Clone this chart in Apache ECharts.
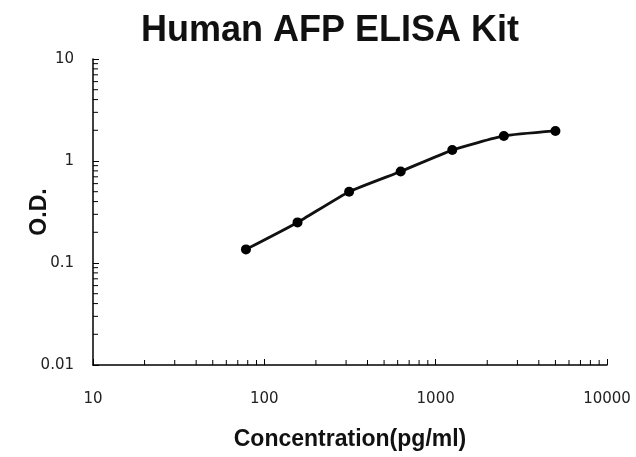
<!DOCTYPE html>
<html><head><meta charset="utf-8">
<script src="https://cdn.jsdelivr.net/npm/echarts@6/dist/echarts.min.js"></script>
<style>html,body{margin:0;padding:0;background:#fff}#c{width:636px;height:457px}</style>
</head><body><div id="c"></div>
<script>
// Data
const concentrations = [78.125, 156.25, 312.5, 625, 1250, 2500, 5000];
const odValues = [0.136, 0.25, 0.50, 0.79, 1.28, 1.76, 1.97];
// Tick positions
const xMinorTicks = [20, 30, 40, 50, 60, 70, 80, 90, 200, 300, 400, 500, 600, 700, 800, 900, 2000, 3000, 4000, 5000, 6000, 7000, 8000, 9000];
const yMinorTicks = [0.02, 0.03, 0.04, 0.05, 0.06, 0.07, 0.08, 0.09, 0.2, 0.3, 0.4, 0.5, 0.6, 0.7, 0.8, 0.9, 2, 3, 4, 5, 6, 7, 8, 9];
const xRange = [10, 10000];
const yRange = [0.01, 10];

const chart = echarts.init(document.getElementById('c'), null, {renderer: 'canvas'});
const fmt = v => String(parseFloat(Number(v).toPrecision(6)));
const labelFont = {fontFamily: 'DejaVu Sans', fontSize: 15, color: '#222'};
const nameFont = {fontFamily: 'Liberation Sans, Arial', fontSize: 23, fontWeight: 'bold', color: '#111'};

chart.setOption({
  backgroundColor: '#fff',
  animation: false,
  title: {
    text: 'Human AFP ELISA Kit',
    left: 136, top: 8,
    textStyle: {fontFamily: 'Liberation Sans, Arial', fontSize: 36, fontWeight: 'bold', color: '#111'}
  },
  grid: {left: 93, right: 29, top: 59, bottom: 92, containLabel: false, outerBoundsMode: 'none'},
  xAxis: {
    type: 'log', logBase: 10, min: xRange[0], max: xRange[1],
    name: 'Concentration(pg/ml)', nameLocation: 'middle', nameGap: 63, nameMoveOverlap: false, nameTextStyle: nameFont,
    axisLine: {lineStyle: {color: '#000', width: 1.5}},
    axisTick: {inside: true, length: 6, lineStyle: {color: '#000', width: 1}},
    axisLabel: Object.assign({margin: 27, formatter: fmt}, labelFont),
    splitLine: {show: false}, minorTick: {show: false}
  },
  yAxis: {
    type: 'log', logBase: 10, min: yRange[0], max: yRange[1],
    name: 'O.D.', nameLocation: 'middle', nameGap: 42, nameMoveOverlap: false, nameTextStyle: nameFont,
    axisLine: {lineStyle: {color: '#000', width: 1.5}},
    axisTick: {inside: true, length: 6, lineStyle: {color: '#000', width: 1}},
    axisLabel: Object.assign({margin: 19, formatter: fmt}, labelFont),
    splitLine: {show: false}, minorTick: {show: false}
  },
  series: [
    {
      type: 'custom', silent: true, z: 1,
      data: xMinorTicks.map(v => [v, yRange[0]]),
      renderItem: (params, api) => {
        const p = api.coord([api.value(0), api.value(1)]);
        return {type: 'line', shape: {x1: p[0], y1: p[1], x2: p[0], y2: p[1] - 5}, style: {stroke: '#000', lineWidth: 1}};
      }
    },
    {
      type: 'custom', silent: true, z: 1,
      data: yMinorTicks.map(v => [xRange[0], v]),
      renderItem: (params, api) => {
        const p = api.coord([api.value(0), api.value(1)]);
        return {type: 'line', shape: {x1: p[0], y1: p[1], x2: p[0] + 5, y2: p[1]}, style: {stroke: '#000', lineWidth: 1}};
      }
    },
    {
      type: 'line', z: 3,
      data: concentrations.map((c, i) => [c, odValues[i]]),
      smooth: 0.15,
      symbol: 'circle', symbolSize: 10,
      itemStyle: {color: '#000'},
      lineStyle: {color: '#111', width: 2.8}
    }
  ]
});
</script>
</body></html>
